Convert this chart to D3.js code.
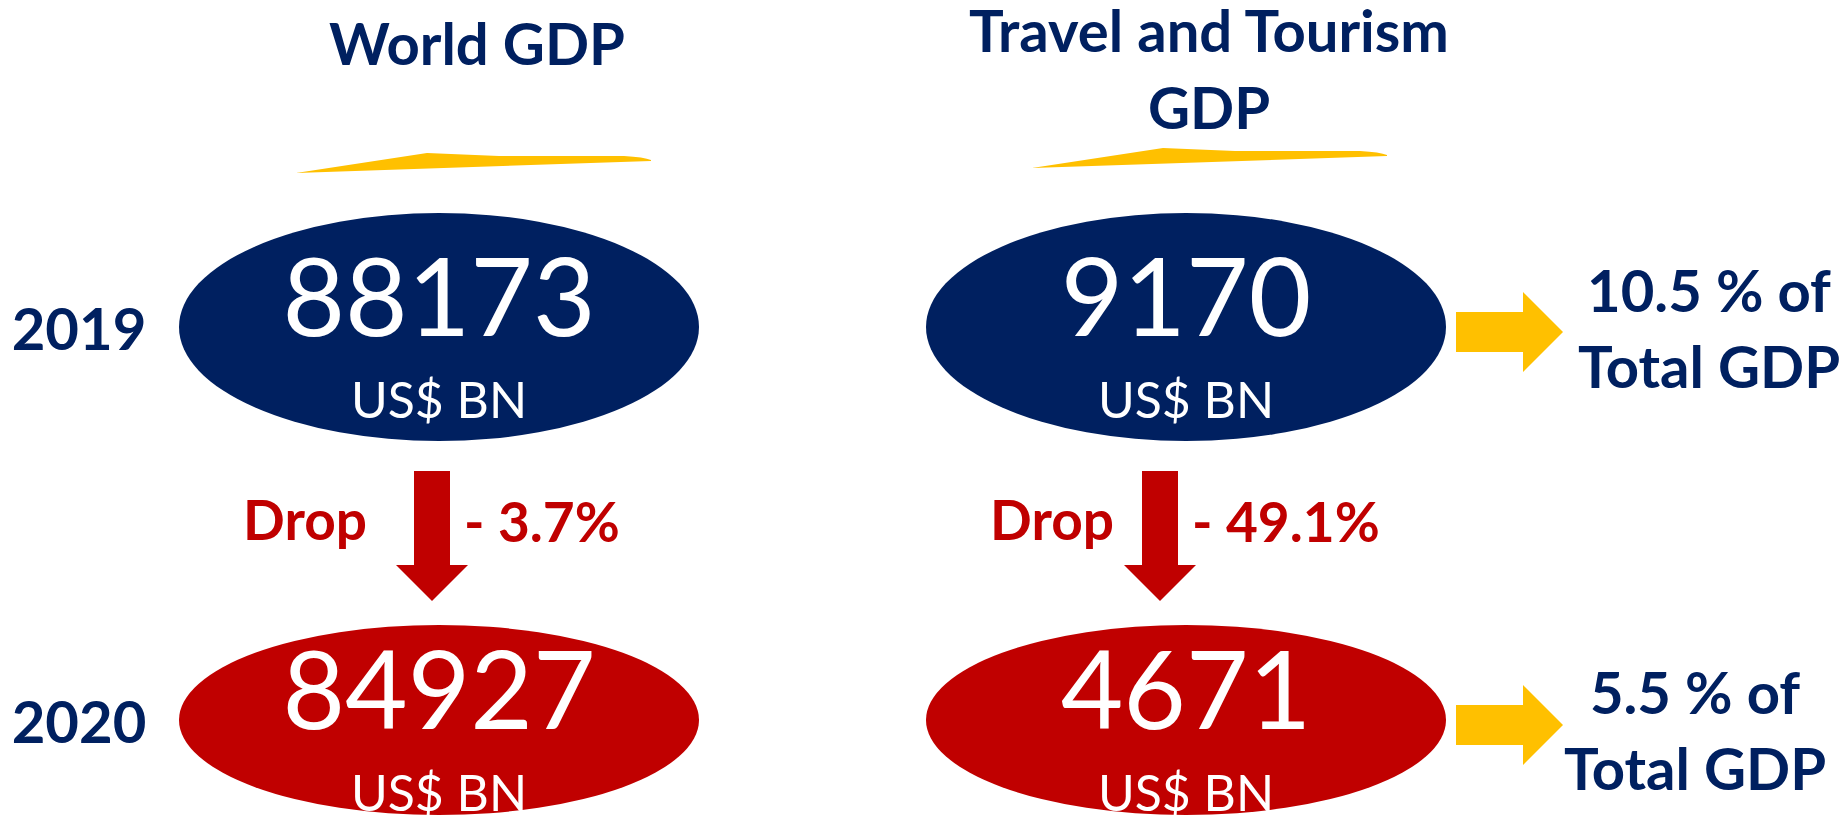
<!DOCTYPE html>
<html>
<head>
<meta charset="utf-8">
<script src="https://cdn.jsdelivr.net/npm/d3@7"></script>
<style>
  body { margin: 0; background: #fff; }
  text { font-family: Lato, "Open Sans", sans-serif; }
</style>
</head>
<body>
<svg id="chart"></svg>
<script>
// chart data
const categories = ["World GDP", "Travel and Tourism GDP"];
const titleLines = [["World GDP"], ["Travel and Tourism", "GDP"]];
const years = ["2019", "2020"];
const gdp2019 = [88173, 9170];
const gdp2020 = [84927, 4671];
const unitLabel = "US$ BN";
const dropWord = "Drop";
const dropLabels = ["- 3.7%", "- 49.1%"];
const shareLabels = [["10.5 % of", "Total GDP"], ["5.5 % of", "Total GDP"]];

const navy = "#002060", red = "#C00000", yellow = "#FFC000";

const svgWidth = 1847, svgHeight = 818;
const svg = d3.select("#chart")
    .attr("width", svgWidth)
    .attr("height", svgHeight);

// column and row scales
const xScale = d3.scalePoint().domain(categories).range([439, 1186]);
const yScale = d3.scalePoint().domain(years).range([327, 720]);
const ryByYear = { "2019": 114, "2020": 95 };

// titles
const titleShift = [38, 23];
const titleBase = [65, 52];
categories.forEach(function (c, i) {
  titleLines[i].forEach(function (line, j) {
    svg.append("text")
        .attr("x", xScale(c) + titleShift[i])
        .attr("y", titleBase[i] + j * 77)
        .attr("text-anchor", "middle")
        .attr("font-size", 58)
        .attr("font-weight", "bold")
        .attr("fill", navy)
        .text(line);
  });
});

// yellow slivers under titles
const sliverY = [173, 168];
const sliverShift = [0, -11];
categories.forEach(function (c, i) {
  const cx = xScale(c) + sliverShift[i], y = sliverY[i];
  const p = d3.path();
  p.moveTo(cx - 143, y);
  p.lineTo(cx - 12, y - 20);
  p.lineTo(cx + 60, y - 17);
  p.lineTo(cx + 185, y - 17);
  p.quadraticCurveTo(cx + 205, y - 16, cx + 212, y - 13);
  p.lineTo(cx + 212, y - 12);
  p.closePath();
  svg.append("path").attr("d", p.toString()).attr("fill", yellow);
});

// year labels
years.forEach(function (yr) {
  svg.append("text")
      .attr("x", 79)
      .attr("y", yScale(yr) + 23)
      .attr("text-anchor", "middle")
      .attr("font-size", 58)
      .attr("font-weight", "bold")
      .attr("fill", navy)
      .text(yr);
});

// ellipses with values
const cells = [];
categories.forEach(function (c, i) {
  cells.push({ cat: c, year: "2019", value: gdp2019[i], color: navy });
  cells.push({ cat: c, year: "2020", value: gdp2020[i], color: red });
});

const cell = svg.selectAll(".cell")
    .data(cells)
    .enter().append("g")
    .attr("class", "cell")
    .attr("transform", d => "translate(" + xScale(d.cat) + "," + yScale(d.year) + ")");

cell.append("ellipse")
    .attr("rx", 260)
    .attr("ry", d => ryByYear[d.year])
    .attr("fill", d => d.color);

cell.append("text")
    .attr("y", 9)
    .attr("text-anchor", "middle")
    .attr("font-size", 108)
    .attr("fill", "#fff")
    .text(d => d.value);

cell.append("text")
    .attr("y", 91)
    .attr("text-anchor", "middle")
    .attr("font-size", 50)
    .attr("fill", "#fff")
    .text(unitLabel);

// red drop arrows
const arrowShift = [-7, -26];
const arrowTop = yScale("2019") + 144;
categories.forEach(function (c, i) {
  const ax = xScale(c) + arrowShift[i];
  const pts = [
    [ax - 18, arrowTop], [ax + 18, arrowTop], [ax + 18, arrowTop + 94],
    [ax + 36, arrowTop + 94], [ax, arrowTop + 130], [ax - 36, arrowTop + 94],
    [ax - 18, arrowTop + 94]
  ];
  svg.append("polygon")
      .attr("points", pts.map(p => p.join(",")).join(" "))
      .attr("fill", red);

  svg.append("text")
      .attr("x", xScale(c) - 72)
      .attr("y", arrowTop + 69)
      .attr("text-anchor", "end")
      .attr("font-size", 55)
      .attr("font-weight", "bold")
      .attr("fill", red)
      .text(dropWord);

  svg.append("text")
      .attr("x", ax + 32)
      .attr("y", arrowTop + 71)
      .attr("font-size", 55)
      .attr("font-weight", "bold")
      .attr("fill", red)
      .text(dropLabels[i]);
});

// yellow share arrows + text
const shareX = [1709, 1695];
const shareOffset = [-15, -6];
years.forEach(function (yr, i) {
  const cy = yScale(yr) + 5;
  const pts = [
    [1456, cy - 20], [1523, cy - 20], [1523, cy - 40], [1563, cy],
    [1523, cy + 40], [1523, cy + 20], [1456, cy + 20]
  ];
  svg.append("polygon")
      .attr("points", pts.map(p => p.join(",")).join(" "))
      .attr("fill", yellow);

  shareLabels[i].forEach(function (line, j) {
    svg.append("text")
        .attr("x", shareX[i])
        .attr("y", yScale(yr) + shareOffset[i] + j * 76)
        .attr("text-anchor", "middle")
        .attr("font-size", 58)
        .attr("font-weight", "bold")
        .attr("fill", navy)
        .text(line);
  });
});
</script>
</body>
</html>
